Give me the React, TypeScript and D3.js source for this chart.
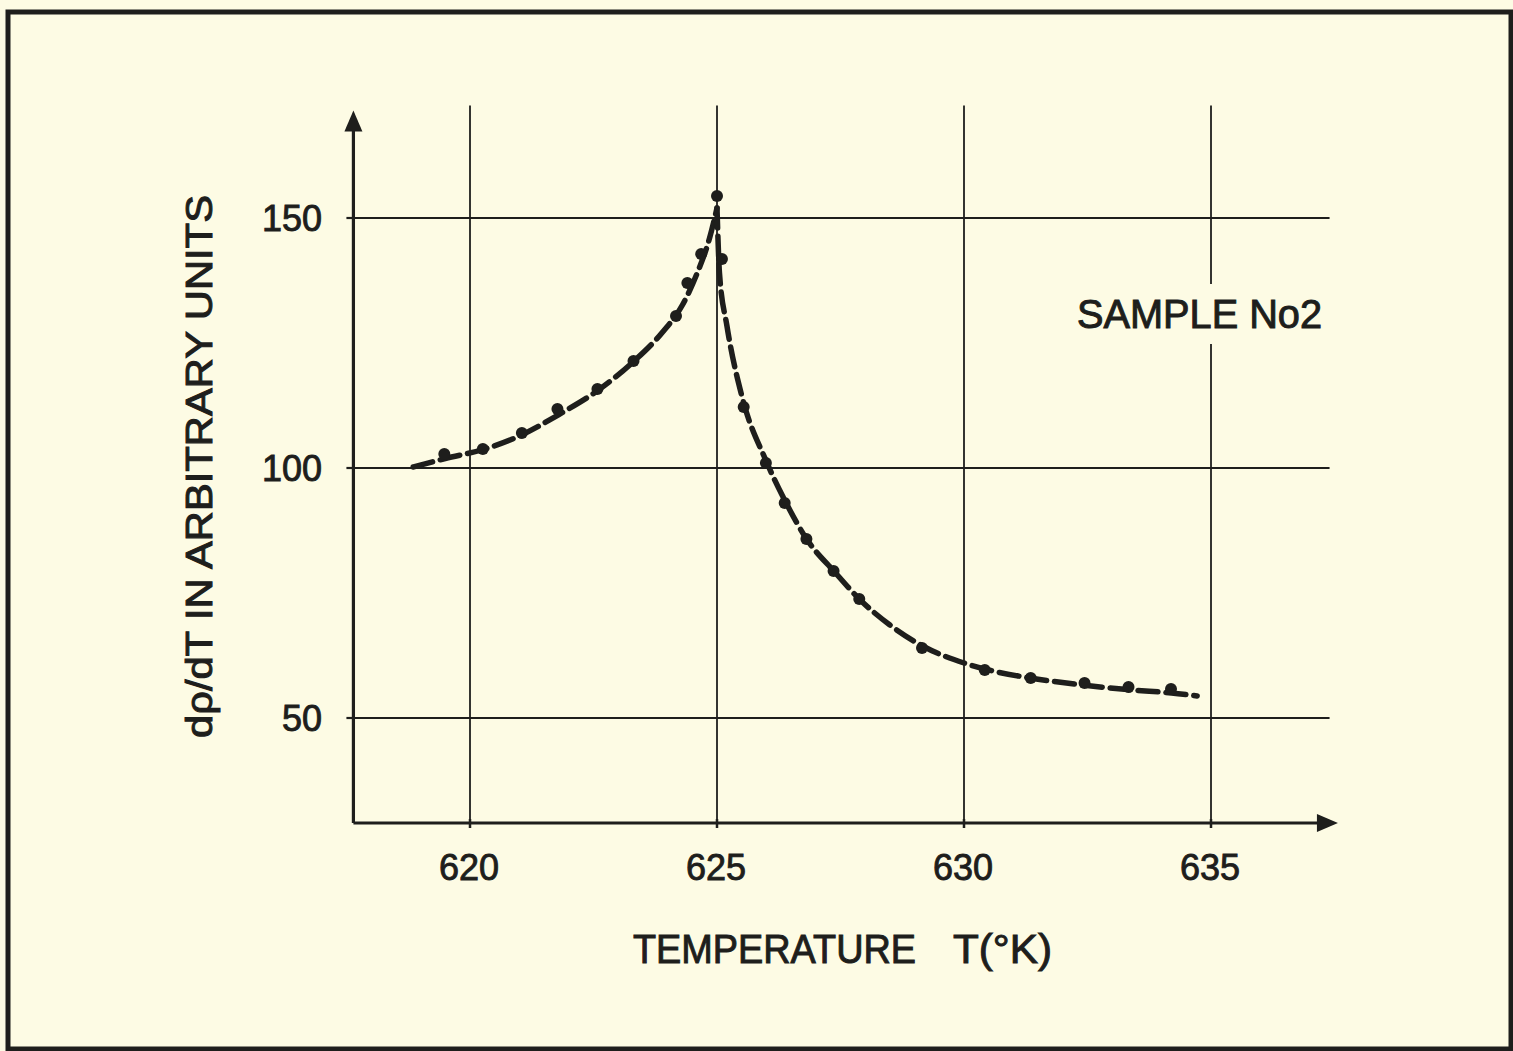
import { useEffect, useRef } from "react";
import * as d3 from "d3";

// measured points (T in K, dρ/dT arbitrary units)
const dotsT = [
  619.48, 620.26, 621.05, 621.77, 622.58, 623.31, 624.17, 624.4, 624.68, 625.0,
  625.1, 625.54, 625.99, 626.37, 626.81, 627.36, 627.88, 629.15, 630.42, 631.35,
  632.44, 633.33, 634.19,
];
const dotsV = [
  102.8, 103.8, 107.0, 111.8, 115.8, 121.4, 130.4, 137.0, 142.8, 154.4,
  141.8, 112.2, 101.0, 93.0, 85.8, 79.4, 73.8, 64.0, 59.6, 58.0,
  57.0, 56.2, 55.8,
];

// hand drawn curve, below and above the transition
const leftCurveT = [618.85, 619.5, 620.3, 621.0, 621.8, 622.6, 623.3, 623.9, 624.3, 624.6, 624.85, 625.0];
const leftCurveV = [100.2, 101.9, 103.8, 106.4, 110.7, 115.6, 121.2, 127.2, 132.6, 139.0, 146.0, 152.0];
const rightCurveT = [625.0, 625.05, 625.2, 625.5, 626.0, 626.4, 626.8, 627.4, 627.9, 628.5, 629.2, 630.0, 630.5, 631.4, 632.4, 633.4, 634.2, 634.72];
const rightCurveV = [152.0, 139.0, 128.5, 114.5, 101.3, 93.0, 86.0, 79.0, 73.6, 68.6, 64.2, 61.0, 59.6, 57.9, 56.6, 55.6, 55.0, 54.4];

const xTicks = [620, 625, 630, 635];
const yTicks = [50, 100, 150];

const paper = "#fdfbe4";
const ink = "#1e1e1c";
const font = "'Liberation Sans', Arial, sans-serif";

export default function App() {
  const ref = useRef<SVGSVGElement>(null);

  useEffect(() => {
    if (!ref.current) return;
    const svg = d3.select(ref.current);
    svg.selectAll("*").remove();

    const x = d3.scaleLinear().domain([620, 635]).range([470, 1211]);
    const y = d3.scaleLinear().domain([50, 150]).range([718, 218]);

    const xMin = 617.64;
    const xMax = 637.57;
    const yMin = 29;
    const yMax = 171.5;

    svg.append("rect").attr("width", 1513).attr("height", 1051).attr("fill", paper);

    // frame
    svg
      .append("rect")
      .attr("x", 8)
      .attr("y", 12)
      .attr("width", 1503)
      .attr("height", 1037)
      .attr("fill", "none")
      .attr("stroke", ink)
      .attr("stroke-width", 5);

    const g = svg.append("g");

    // grid
    g.selectAll(".hgrid")
      .data(yTicks)
      .enter()
      .append("line")
      .attr("x1", x(xMin))
      .attr("x2", x(637.4))
      .attr("y1", (d) => y(d))
      .attr("y2", (d) => y(d))
      .style("stroke", ink)
      .style("stroke-width", 1.8);

    g.selectAll(".vgrid")
      .data(xTicks)
      .enter()
      .append("line")
      .attr("x1", (d) => x(d))
      .attr("x2", (d) => x(d))
      .attr("y1", y(yMin))
      .attr("y2", y(172.5))
      .style("stroke", ink)
      .style("stroke-width", 1.8);

    // little ticks on the axes
    g.selectAll(".ytick")
      .data(yTicks)
      .enter()
      .append("line")
      .attr("x1", x(xMin) - 7)
      .attr("x2", x(xMin))
      .attr("y1", (d) => y(d))
      .attr("y2", (d) => y(d))
      .style("stroke", ink)
      .style("stroke-width", 2.2);

    g.selectAll(".xtick")
      .data(xTicks)
      .enter()
      .append("line")
      .attr("x1", (d) => x(d))
      .attr("x2", (d) => x(d))
      .attr("y1", y(yMin) - 4)
      .attr("y2", y(yMin) + 5)
      .style("stroke", ink)
      .style("stroke-width", 2.5);

    // axes with arrows
    g.append("line")
      .attr("x1", x(xMin))
      .attr("x2", x(xMin))
      .attr("y1", y(yMin))
      .attr("y2", y(yMax) + 16)
      .style("stroke", ink)
      .style("stroke-width", 3.2);
    g.append("path")
      .attr(
        "d",
        `M${x(xMin)},${y(yMax)} L${x(xMin) - 9},${y(yMax) + 21} L${x(xMin) + 9},${y(yMax) + 21} Z`
      )
      .attr("fill", ink);

    g.append("line")
      .attr("x1", x(xMin))
      .attr("x2", x(xMax) - 16)
      .attr("y1", y(yMin))
      .attr("y2", y(yMin))
      .style("stroke", ink)
      .style("stroke-width", 3.2);
    g.append("path")
      .attr(
        "d",
        `M${x(xMax)},${y(yMin)} L${x(xMax) - 21},${y(yMin) - 9} L${x(xMax) - 21},${y(yMin) + 9} Z`
      )
      .attr("fill", ink);

    // tick labels
    g.selectAll(".xlabel")
      .data(xTicks)
      .enter()
      .append("text")
      .attr("x", (d) => x(d) - 1)
      .attr("y", 880)
      .attr("text-anchor", "middle")
      .style("font-family", font)
      .style("font-size", "36px")
      .style("fill", ink)
      .style("stroke", ink)
      .style("stroke-width", 0.9)
      .text((d) => d);

    g.selectAll(".ylabel")
      .data(yTicks)
      .enter()
      .append("text")
      .attr("x", 322)
      .attr("y", (d) => y(d))
      .attr("dy", "0.36em")
      .attr("text-anchor", "end")
      .style("font-family", font)
      .style("font-size", "36px")
      .style("fill", ink)
      .style("stroke", ink)
      .style("stroke-width", 0.9)
      .text((d) => d);

    // curve
    const line = d3
      .line<[number, number]>()
      .x((d) => x(d[0]))
      .y((d) => y(d[1]))
      .curve(d3.curveMonotoneX);

    const left = leftCurveT.map((t, i) => [t, leftCurveV[i]] as [number, number]);
    const right = rightCurveT.map((t, i) => [t, rightCurveV[i]] as [number, number]);

    [left, right].forEach((pts) => {
      g.append("path")
        .attr("d", line(pts))
        .attr("fill", "none")
        .style("stroke", ink)
        .style("stroke-width", 5.5)
        .style("stroke-dasharray", "20,8")
        .style("stroke-linecap", "round");
    });

    g.selectAll(".dot")
      .data(dotsT.map((t, i) => [t, dotsV[i]]))
      .enter()
      .append("circle")
      .attr("cx", (d) => x(d[0]))
      .attr("cy", (d) => y(d[1]))
      .attr("r", 6)
      .attr("fill", ink);

    // titles
    const titleText = (sel: d3.Selection<SVGTextElement, unknown, null, undefined>) =>
      sel
        .attr("lengthAdjust", "spacingAndGlyphs")
        .style("font-family", font)
        .style("fill", ink)
        .style("stroke", ink)
        .style("stroke-width", 1);

    g.append("text")
      .attr("x", 633)
      .attr("y", 963)
      .attr("textLength", 283)
      .style("font-size", "41px")
      .call(titleText)
      .text("TEMPERATURE");
    g.append("text")
      .attr("x", 953)
      .attr("y", 963)
      .attr("textLength", 99)
      .style("font-size", "41px")
      .call(titleText)
      .text("T(°K)");

    g.append("text")
      .attr("transform", "translate(212,738) rotate(-90)")
      .attr("textLength", 543)
      .style("font-size", "37px")
      .call(titleText)
      .text("dρ/dT IN ARBITRARY UNITS");

    // label sits in a gap cut out of the 635 grid line
    g.append("rect")
      .attr("x", 1070)
      .attr("y", 284)
      .attr("width", 262)
      .attr("height", 60)
      .attr("fill", paper);
    g.append("text")
      .attr("x", 1077)
      .attr("y", 328)
      .attr("textLength", 245)
      .style("font-size", "40px")
      .call(titleText)
      .text("SAMPLE No2");
  }, []);

  return (
    <svg
      ref={ref}
      width={1513}
      height={1051}
      viewBox="0 0 1513 1051"
      style={{ position: "absolute", left: 0, top: 0 }}
    />
  );
}
